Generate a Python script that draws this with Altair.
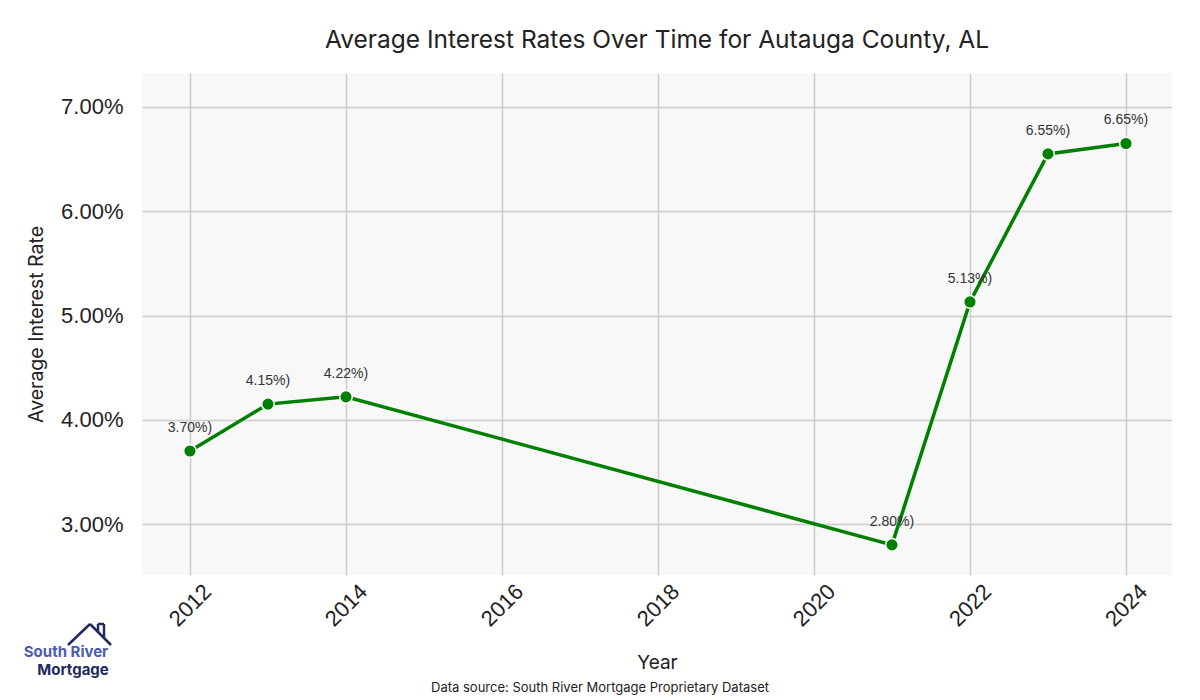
import altair as alt
import pandas as pd

years = [2012, 2013, 2014, 2021, 2022, 2023, 2024]
rates = [0.0370, 0.0415, 0.0422, 0.0280, 0.0513, 0.0655, 0.0665]
labels = ["3.70%)", "4.15%)", "4.22%)", "2.80%)", "5.13%)", "6.55%)", "6.65%)"]
x_ticks = [2012, 2014, 2016, 2018, 2020, 2022, 2024]
y_ticks = [0.03, 0.04, 0.05, 0.06, 0.07]

df = pd.DataFrame({"Year": years, "Rate": rates, "Label": labels})

W, H = 1030, 502
GREEN = "#008000"

x = alt.X("Year:Q", scale=alt.Scale(domain=[2011.385, 2024.59], nice=False, zero=False),
          axis=alt.Axis(values=x_ticks, format="d", labelAngle=-45, labelAlign="center",
                        labelBaseline="middle", labelPadding=30, labelFontSize=22,
                        labelFont="Liberation Sans", labelColor="#222222",
                        title="Year", titleFontSize=19, titleFont="Inter", titleFontWeight="normal",
                        titleColor="#222222", titlePadding=23,
                        domain=False, ticks=False, grid=True, gridColor="#cccccc", gridWidth=1.5))
y = alt.Y("Rate:Q", scale=alt.Scale(domain=[0.02511, 0.07326], nice=False, zero=False),
          axis=alt.Axis(values=y_ticks, format=".2%", labelFontSize=22, labelPadding=19,
                        labelFont="Liberation Sans", labelColor="#222222",
                        title="Average Interest Rate", titleFontSize=19.5, titleFont="Inter",
                        titleFontWeight="normal", titleColor="#222222", titlePadding=14,
                        domain=False, ticks=False, grid=True, gridColor="#cccccc", gridWidth=1.5))

base = alt.Chart(df).encode(x=x, y=y)
line = base.mark_line(color=GREEN, strokeWidth=3.5)
pts = base.mark_point(filled=True, color=GREEN, size=160, stroke="white", strokeWidth=1.5, opacity=1)
txt = base.mark_text(dy=-23, fontSize=14, font="Liberation Sans", color="#333333").encode(text="Label:N")

one = pd.DataFrame({"a": [0]})
source = alt.Chart(one).mark_text(fontSize=13, font="Inter", color="#222222").encode(
    x=alt.value(458), y=alt.value(615), text=alt.value("Data source: South River Mortgage Proprietary Dataset"))
logo1 = alt.Chart(one).mark_text(fontSize=15, font="Inter", fontWeight="bold", color="#4a5cb0").encode(
    x=alt.value(-76), y=alt.value(579), text=alt.value("South River"))
logo2 = alt.Chart(one).mark_text(fontSize=15, font="Inter", fontWeight="bold", color="#1f2a5e").encode(
    x=alt.value(-69), y=alt.value(597), text=alt.value("Mortgage"))
roof_l = alt.Chart(one).mark_rule(color="#1f2a5e", strokeWidth=2.5).encode(
    x=alt.value(-74), x2=alt.value(-52), y=alt.value(572), y2=alt.value(551))
roof_r = alt.Chart(one).mark_rule(color="#1f2a5e", strokeWidth=2.5).encode(
    x=alt.value(-52), x2=alt.value(-31), y=alt.value(551), y2=alt.value(572))
ch_l = alt.Chart(one).mark_rule(color="#1f2a5e", strokeWidth=2.5).encode(
    x=alt.value(-44), x2=alt.value(-44), y=alt.value(551), y2=alt.value(559))
ch_t = alt.Chart(one).mark_rule(color="#1f2a5e", strokeWidth=2.5).encode(
    x=alt.value(-44), x2=alt.value(-38), y=alt.value(551), y2=alt.value(551))
ch_r = alt.Chart(one).mark_rule(color="#1f2a5e", strokeWidth=2.5).encode(
    x=alt.value(-38), x2=alt.value(-38), y=alt.value(551), y2=alt.value(565))

chart = alt.layer(line, pts, txt, source, logo1, logo2, roof_l, roof_r, ch_l, ch_t, ch_r).properties(
    width=W, height=H,
    title=alt.TitleParams("Average Interest Rates Over Time for Autauga County, AL",
                          fontSize=24.5, font="Inter", fontWeight="normal", color="#222222",
                          anchor="middle", offset=20),
    autosize=alt.AutoSizeParams(type="none"),
    padding={"left": 134, "top": 65, "right": 20, "bottom": 122},
    background="white",
).configure_view(fill="#f8f8f8", stroke=None)

chart.save("out.html", embed_options={"renderer": "svg", "actions": False})
